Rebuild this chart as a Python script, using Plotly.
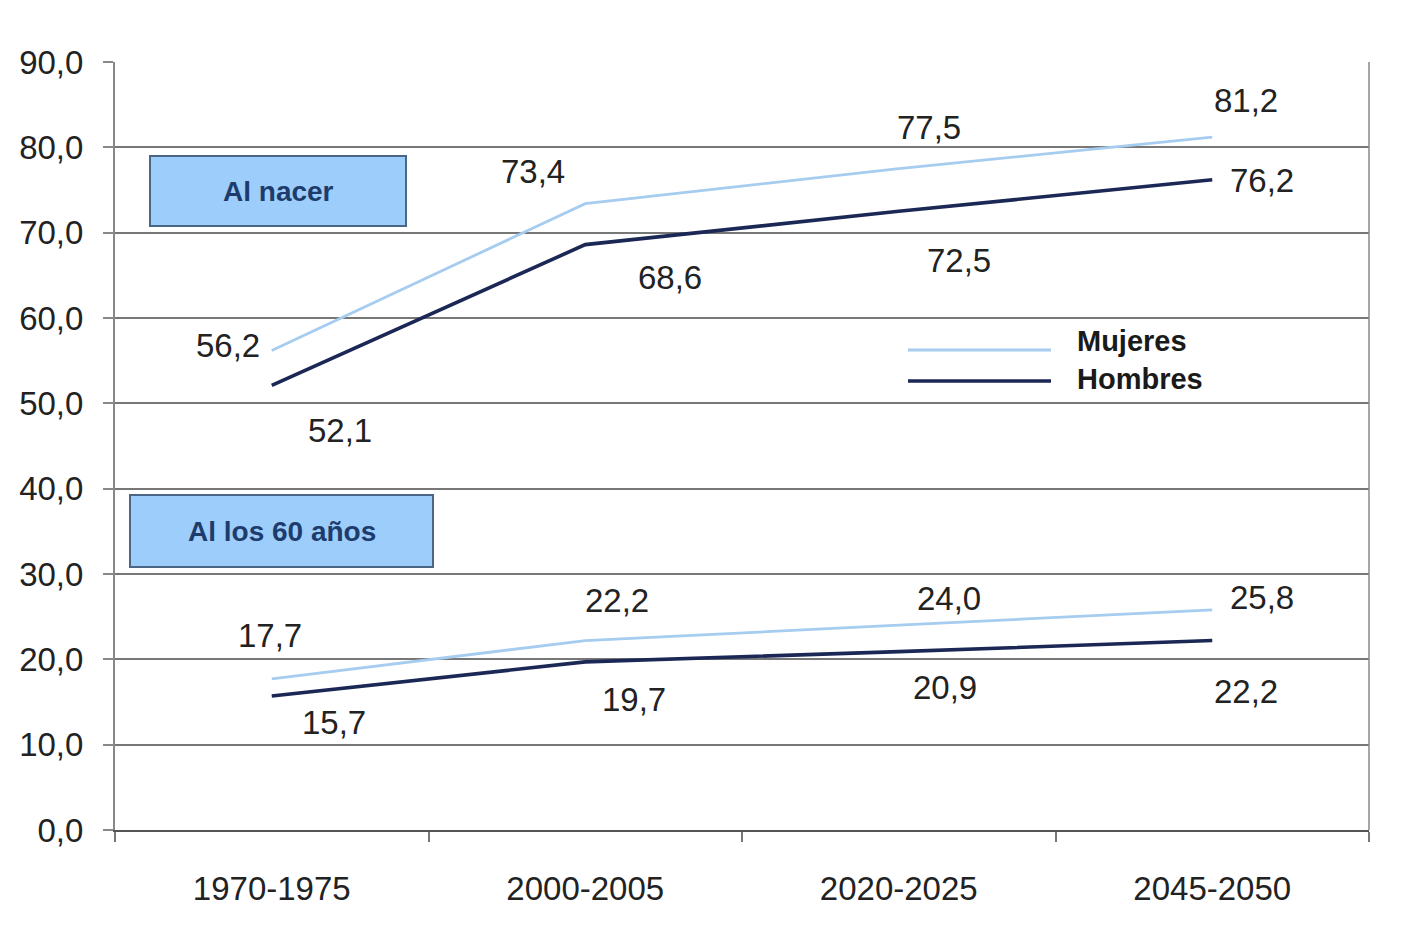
import plotly.graph_objects as go

categories = ["1970-1975", "2000-2005", "2020-2025", "2045-2050"]
mujeres_nacer = [56.2, 73.4, 77.5, 81.2]
hombres_nacer = [52.1, 68.6, 72.5, 76.2]
mujeres_60 = [17.7, 22.2, 24.0, 25.8]
hombres_60 = [15.7, 19.7, 20.9, 22.2]
y_ticks = [0, 10, 20, 30, 40, 50, 60, 70, 80, 90]

C_MUJ = "#a6ccf0"
C_HOM = "#1b2754"
FONT = "Liberation Sans, Arial, sans-serif"

# page has an 8px body margin; plot area target (page px): x 115..1369, y 62..830
OFF = 8
W, H = 1401 - OFF, 928 - OFF
L, T = 115 - OFF, 62 - OFF
R = W - (1369 - OFF)
B = H - (830 - OFF)
PW, PH = W - L - R, H - T - B


def px(xp):
    return (xp - 115) / PW


def py(yp):
    return (830 - yp) / PH


fig = go.Figure()
for ys, col, w, name in [
    (mujeres_nacer, C_MUJ, 2.8, "Mujeres"),
    (hombres_nacer, C_HOM, 3.6, "Hombres"),
    (mujeres_60, C_MUJ, 2.8, "Mujeres"),
    (hombres_60, C_HOM, 3.6, "Hombres"),
]:
    fig.add_trace(go.Scatter(x=categories, y=ys, mode="lines", name=name,
                             line=dict(color=col, width=w), showlegend=False,
                             hoverinfo="skip"))


def fmt(v):
    return f"{v:.1f}".replace(".", ",")


# label offsets (pixels) per series/point
offsets = {
    "mn": [(-44, 5), (-52, 32), (30, 41), (34, 37)],
    "hn": [(68, -45), (85, -33), (60, -49), (50, -1)],
    "m6": [(-2, 43), (32, 40), (50, 27), (50, 12)],
    "h6": [(62, -26), (49, -38), (46, -36), (34, -51)],
}
for key, ys in [("mn", mujeres_nacer), ("hn", hombres_nacer), ("m6", mujeres_60), ("h6", hombres_60)]:
    for i, (c, v) in enumerate(zip(categories, ys)):
        dx, dy = offsets[key][i]
        fig.add_annotation(x=c, y=v, text=fmt(v), showarrow=False,
                           xshift=dx, yshift=dy,
                           font=dict(family=FONT, size=33, color="#222222"))

# category boxes
for label, x0, x1, y0, y1 in [("Al nacer", 150, 406, 156, 226),
                              ("Al los 60 años", 130, 433, 495, 567)]:
    fig.add_shape(type="rect", xref="paper", yref="paper",
                  x0=px(x0), x1=px(x1), y0=py(y1), y1=py(y0),
                  fillcolor="#9dcdfb", line=dict(color="#4b6684", width=2), layer="above")
    fig.add_annotation(xref="paper", yref="paper",
                       x=px((x0 + x1) / 2), y=py((y0 + y1) / 2),
                       xanchor="center", yanchor="middle",
                       text=f"<b>{label}</b>", showarrow=False,
                       font=dict(family=FONT, size=28, color="#1d3c6c"))

# legend (custom, long line samples)
for name, col, w, ypx, ty in [("Mujeres", C_MUJ, 2.8, 350, 341),
                              ("Hombres", C_HOM, 3.6, 381, 379)]:
    fig.add_shape(type="line", xref="paper", yref="paper",
                  x0=px(908), x1=px(1051), y0=py(ypx), y1=py(ypx),
                  line=dict(color=col, width=w))
    fig.add_annotation(xref="paper", yref="paper", x=px(1075),
                       y=py(ty), xanchor="left", yanchor="middle",
                       text=f"<b>{name}</b>",
                       showarrow=False, font=dict(family=FONT, size=29, color="#1a1a1a"))

fig.update_xaxes(type="category", range=[-0.5, 3.5], showgrid=False,
                 showline=True, linecolor="#555555", linewidth=2,
                 ticks="outside", tickson="boundaries", ticklen=10, tickwidth=2,
                 tickcolor="#777777", ticklabelstandoff=28,
                 tickfont=dict(family=FONT, size=33, color="#222222"),
                 mirror=False)
fig.update_yaxes(range=[0, 90], tickvals=y_ticks,
                 ticktext=[fmt(v) for v in y_ticks],
                 showgrid=True, gridcolor="#777777", gridwidth=2,
                 showline=True, linecolor="#888888", linewidth=2,
                 ticks="outside", ticklen=10, tickwidth=2, tickcolor="#888888",
                 ticklabelstandoff=13,
                 tickfont=dict(family=FONT, size=33, color="#222222"),
                 zeroline=False)
# right border
fig.add_shape(type="line", xref="paper", yref="paper", x0=1, x1=1, y0=0, y1=1,
              line=dict(color="#888888", width=1.5))

fig.update_layout(width=W, height=H, margin=dict(l=L, r=R, t=T, b=B),
                  paper_bgcolor="white", plot_bgcolor="white", showlegend=False)

fig.write_html("out.html")
